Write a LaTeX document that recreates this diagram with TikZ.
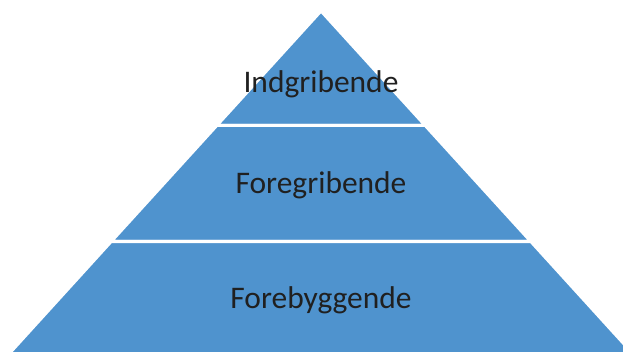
\documentclass[tikz,border=0pt]{standalone}
\usepackage[svgnames]{xcolor}
\usepackage{fontspec}
\setmainfont{Carlito}
\definecolor{PyrBlue}{RGB}{79,147,206}
\definecolor{LabelText}{RGB}{32,32,32}

\begin{document}
\begin{tikzpicture}[x=0.75pt, y=-0.75pt,
      band/.style={fill=PyrBlue, draw=white, line width=2.25pt, line join=round},
      every node/.append style={anchor=base, text=LabelText,
        font=\fontsize{23.6}{28}\selectfont}]
    \useasboundingbox (0,0) rectangle (623,352);
    % corners of the bands
    \coordinate (TOP) at (321,11);
    \coordinate (L1) at (216.8,125.5);
    \coordinate (R1) at (425.2,125.5);
    \coordinate (L2) at (111.2,241.5);
    \coordinate (R2) at (530.8,241.5);
    \coordinate (L3) at (3.4,360);
    \coordinate (R3) at (638.6,360);
    \fill[band] (TOP) -- (R1) -- (L1) -- cycle;
    \fill[band] (L1) -- (R1) -- (R2) -- (L2) -- cycle;
    \fill[band] (L2) -- (R2) -- (R3) -- (L3) -- cycle;
    \draw[band] (TOP) -- (R1) -- (L1) -- cycle;
    \draw[band] (L1) -- (R1) -- (R2) -- (L2) -- cycle;
    \draw[band] (L2) -- (R2) -- (R3) -- (L3) -- cycle;
    % labels
    \node (INDGRIB) at (321,93) {Indgribende};
    \node (FOREGRIB) at (321,194) {Foregribende};
    \node (FOREBYG) at (321,308) {Forebyggende};
  \end{tikzpicture}
\end{document}
